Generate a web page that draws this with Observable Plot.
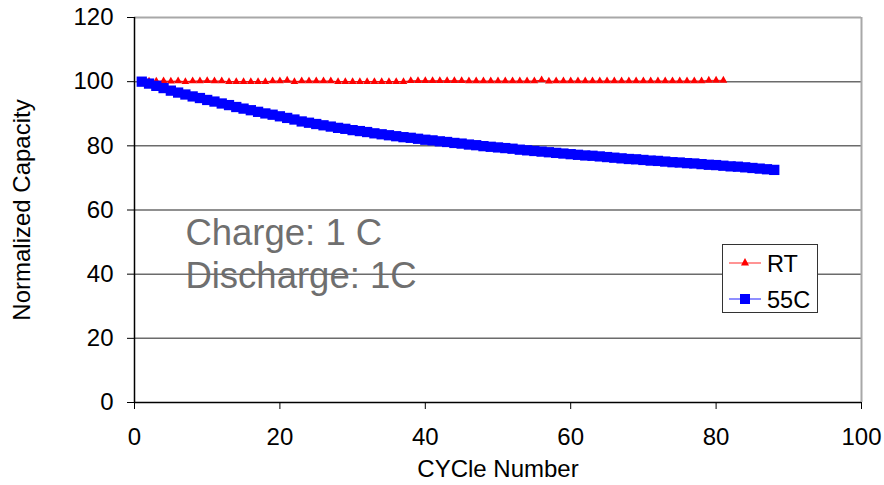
<!DOCTYPE html>
<html>
<head>
<meta charset="utf-8">
<script src="https://cdn.jsdelivr.net/npm/d3@7"></script>
<script src="https://cdn.jsdelivr.net/npm/@observablehq/plot@0.6"></script>
<style>
  html, body { margin: 0; padding: 0; background: #fff; }
  #wrap { position: relative; width: 884px; height: 485px; font-family: "Liberation Sans", Arial, sans-serif; }
  #legend { position: absolute; left: 722px; top: 244px; width: 96px; height: 69px; border: 1.5px solid #333; background: #fff; box-sizing: border-box; }
</style>
</head>
<body>
<div id="wrap"></div>
<script>
// ---- data ----
const seriesNames = ["RT", "55C"];
const xTicks = [0, 20, 40, 60, 80, 100];
const yTicks = [0, 20, 40, 60, 80, 100, 120];

// RT: cycles 1..81
const rtValues = [
  100.0, 100.1, 100.1, 100.2, 100.1, 100.2, 100.0, 100.2, 100.2, 100.3,
  100.2, 100.2, 100.0, 100.0, 100.0, 100.0, 100.0, 100.0, 100.2, 100.2,
  100.4, 100.0, 100.2, 100.2, 100.2, 100.2, 100.2, 100.0, 100.0, 100.0,
  100.0, 100.0, 100.0, 100.0, 100.0, 100.0, 100.0, 100.3, 100.3, 100.3,
  100.3, 100.3, 100.3, 100.3, 100.3, 100.2, 100.2, 100.2, 100.2, 100.2,
  100.2, 100.2, 100.2, 100.2, 100.2, 100.5, 100.1, 100.2, 100.2, 100.2,
  100.2, 100.2, 100.2, 100.2, 100.2, 100.2, 100.2, 100.2, 100.2, 100.2,
  100.2, 100.2, 100.2, 100.2, 100.2, 100.2, 100.2, 100.2, 100.4, 100.4,
  100.4
];

// 55C: cycles 1..88
const c55Values = [
  100.0, 99.4, 98.7, 98.0, 97.2, 96.6, 96.0, 95.4, 94.9, 94.3,
  93.8, 93.2, 92.7, 92.1, 91.6, 91.1, 90.6, 90.1, 89.7, 89.2,
  88.7, 88.2, 87.6, 87.2, 86.8, 86.4, 86.0, 85.6, 85.3, 84.9,
  84.6, 84.3, 83.9, 83.6, 83.3, 83.0, 82.7, 82.5, 82.2, 81.9,
  81.7, 81.4, 81.2, 80.9, 80.7, 80.4, 80.2, 79.9, 79.7, 79.5,
  79.3, 79.1, 78.8, 78.6, 78.4, 78.2, 78.0, 77.8, 77.6, 77.4,
  77.2, 77.0, 76.9, 76.7, 76.5, 76.3, 76.1, 75.9, 75.8, 75.6,
  75.4, 75.3, 75.1, 74.9, 74.8, 74.6, 74.5, 74.3, 74.1, 74.0,
  73.8, 73.6, 73.5, 73.3, 73.1, 72.9, 72.7, 72.5
];

const noteLines = ["Charge: 1 C", "Discharge: 1C"];
const noteX = [7, 7];
const noteY = [52.6, 39.4];

// ---- build ----
const rtData = rtValues.map((v, i) => ({cycle: i + 1, value: v}));
const c55Data = c55Values.map((v, i) => ({cycle: i + 1, value: v}));
const notes = noteLines.map((t, i) => ({text: t, x: noteX[i], y: noteY[i]}));

const chart = Plot.plot({
  width: 884,
  height: 485,
  marginLeft: 134,
  marginRight: 23,
  marginTop: 17,
  marginBottom: 83,
  style: {fontFamily: "'Liberation Sans', Arial, sans-serif", fontSize: "24px", color: "#000", background: "#fff", overflow: "visible"},
  x: {domain: [0, 100]},
  y: {domain: [0, 120]},
  marks: [
    Plot.text(notes, {x: "x", y: "y", text: "text", textAnchor: "start", fontSize: 36.5, fill: "#6f6f6f"}),
    Plot.ruleY(yTicks.filter(d => d > 0 && d < 120), {stroke: "#6b6b6b", strokeWidth: 1.5}),
    Plot.ruleY([120], {stroke: "#a8a8a8", strokeWidth: 2}),
    Plot.ruleX([100], {stroke: "#a8a8a8", strokeWidth: 2}),
    Plot.line(rtData, {x: "cycle", y: "value", stroke: "#ff0000", strokeWidth: 1}),
    Plot.dot(rtData, {x: "cycle", y: "value", symbol: "triangle", r: 2.9, fill: "#ff0000", stroke: null}),
    Plot.line(c55Data, {x: "cycle", y: "value", stroke: "#0000ff", strokeWidth: 1}),
    Plot.dot(c55Data, {x: "cycle", y: "value", symbol: "square", r: 5.8, fill: "#0000ff", stroke: null}),
    Plot.ruleX([0], {stroke: "#000", strokeWidth: 1.5}),
    Plot.ruleY([0], {stroke: "#000", strokeWidth: 1.5}),
    Plot.axisX({ticks: xTicks, tickSize: 7, tickPadding: 18, fontSize: 24, label: "CYCle Number", labelAnchor: "center", labelArrow: "none", labelOffset: 74}),
    Plot.axisY({ticks: yTicks, tickSize: 7, tickPadding: 14, fontSize: 24, label: "Normalized Capacity", labelAnchor: "center", labelArrow: "none", labelOffset: 122})
  ]
});

const wrap = document.getElementById("wrap");
wrap.appendChild(chart);

// legend overlay
const legend = document.createElement("div");
legend.id = "legend";
const colors = {"RT": "#ff0000", "55C": "#0000ff"};
const lineColors = {"RT": "#ff7070", "55C": "#6a6aff"};
let svg = `<svg width="93" height="66" xmlns="http://www.w3.org/2000/svg" style="position:absolute;left:0;top:0;overflow:visible;font-family:'Liberation Sans',Arial,sans-serif">`;
seriesNames.forEach((name, i) => {
  const cy = 18 + i * 36;
  svg += `<line x1="6" x2="38" y1="${cy}" y2="${cy}" stroke="${lineColors[name]}" stroke-width="1.5"/>`;
  if (name === "RT") {
    svg += `<path d="M22,${cy - 5} L26,${cy + 2.5} L18,${cy + 2.5} Z" fill="${colors[name]}"/>`;
  } else {
    svg += `<rect x="17" y="${cy - 5}" width="10" height="10" fill="${colors[name]}"/>`;
  }
  svg += `<text x="44" y="${cy + 8.5}" font-size="23.5" fill="#000">${name}</text>`;
});
svg += `</svg>`;
legend.innerHTML = svg;
wrap.appendChild(legend);
</script>
</body>
</html>
